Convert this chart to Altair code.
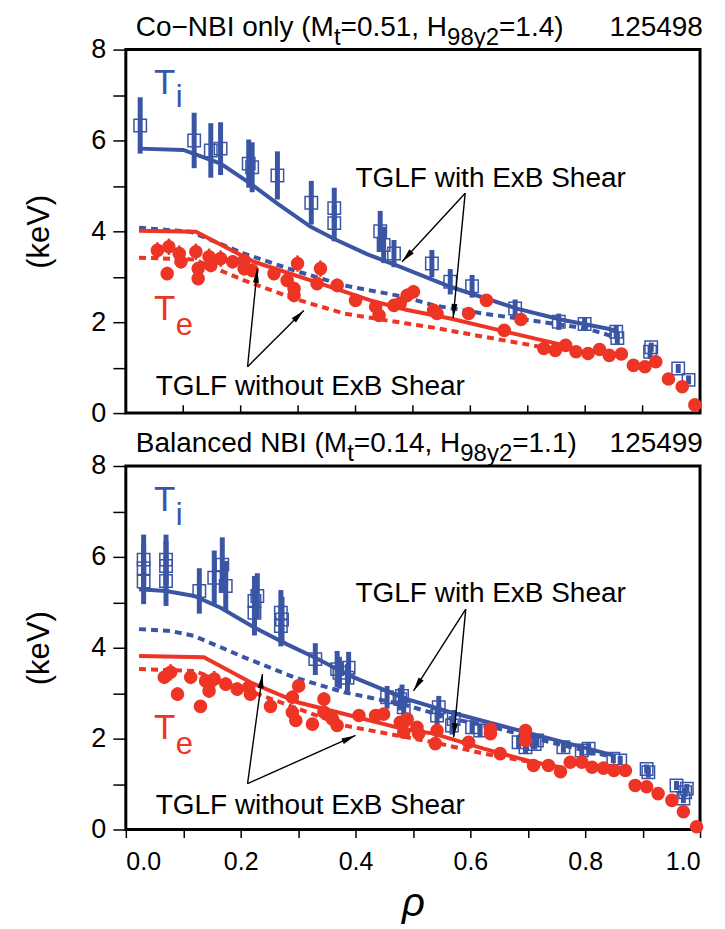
import math
import altair as alt
import pandas as pd

BLUE = "#3b55a5"
RED = "#ee3424"
FONT = "Liberation Sans"
TITLE_FONT = "Liberation Sans"
W, H = 575, 364
PX_X = W / 1.0
PX_Y = H / 8.0

# ---------------- Panel 1: Co-NBI only, shot 125498 ----------------
p1_title = [("Co−NBI only (M", "m"), ("t", "s"), ("=0.51, H", "m"), ("98y2", "s"), ("=1.4)", "m")]
p1_shot = "125498"

p1_ti_rho = [0.025, 0.119, 0.148, 0.165, 0.214, 0.220, 0.264, 0.323, 0.363, 0.363,
             0.443, 0.449, 0.467, 0.533, 0.565, 0.603, 0.678, 0.754, 0.799, 0.854,
             0.856, 0.913, 0.915, 0.962, 0.980]
p1_ti_val = [6.33, 6.00, 5.78, 5.82, 5.49, 5.41, 5.23, 4.63, 4.51, 4.18,
             4.00, 3.70, 3.51, 3.29, 2.89, 2.79, 2.30, 2.01, 1.96, 1.79,
             1.65, 1.35, 1.45, 0.98, 0.73]
p1_ti_err = [0.62, 0.61, 0.60, 0.58, 0.53, 0.55, 0.53, 0.48, 0.45, 0.40,
             0.45, 0.40, 0.30, 0.30, 0.28, 0.25, 0.20, 0.18, 0.15, 0.15,
             0.15, 0.15, 0.10, 0.10, 0.10]

p1_te_rho = [0.055, 0.075, 0.072, 0.093, 0.096, 0.122, 0.126, 0.126, 0.145, 0.148,
             0.165, 0.186, 0.206, 0.206, 0.220, 0.258, 0.281, 0.293, 0.293, 0.299,
             0.333, 0.339, 0.368, 0.400, 0.435, 0.441, 0.467, 0.478, 0.490, 0.501,
             0.536, 0.542, 0.597, 0.628, 0.659, 0.688, 0.728, 0.748, 0.766, 0.784,
             0.805, 0.825, 0.842, 0.863, 0.884, 0.904, 0.923, 0.945, 0.969, 0.991]
p1_te_val = [3.58, 3.66, 3.07, 3.51, 3.33, 3.55, 3.18, 2.96, 3.44, 3.25,
             3.40, 3.33, 3.36, 3.18, 3.14, 3.07, 2.92, 2.74, 2.59, 3.29,
             2.85, 3.18, 2.81, 2.48, 2.34, 2.15, 2.37, 2.42, 2.59, 2.67,
             2.26, 2.19, 2.19, 2.48, 1.82, 2.06, 1.42, 1.38, 1.49, 1.35,
             1.31, 1.40, 1.27, 1.30, 1.05, 1.02, 1.13, 0.75, 0.58, 0.18]
p1_te_err = [0.18, 0.18, 0.15, 0.18, 0.15, 0.18, 0.15, 0.15, 0.18, 0.15,
             0.18, 0.15, 0.18, 0.15, 0.15, 0.15, 0.15, 0.15, 0.15, 0.18,
             0.15, 0.18, 0.15, 0.12, 0.12, 0.12, 0.12, 0.12, 0.15, 0.15,
             0.10, 0.10, 0.10, 0.10, 0.10, 0.10, 0.06, 0.06, 0.06, 0.06,
             0.06, 0.06, 0.06, 0.06, 0.06, 0.06, 0.06, 0.06, 0.06, 0.06]

p1_ti_with_rho = [0.023, 0.100, 0.118, 0.165, 0.217, 0.264, 0.322, 0.365, 0.420, 0.478, 0.565, 0.681, 0.757, 0.838, 0.852]
p1_ti_with_val = [5.82, 5.79, 5.71, 5.49, 5.05, 4.61, 4.10, 3.82, 3.50, 3.22, 2.78, 2.30, 2.06, 1.86, 1.82]
p1_ti_wo_rho = [0.023, 0.113, 0.206, 0.293, 0.380, 0.484, 0.536, 0.623, 0.722, 0.803, 0.850]
p1_ti_wo_val = [4.08, 3.99, 3.51, 3.14, 2.81, 2.56, 2.37, 2.19, 2.01, 1.86, 1.68]
p1_te_with_rho = [0.023, 0.122, 0.223, 0.322, 0.426, 0.490, 0.565, 0.652, 0.760]
p1_te_with_val = [4.01, 3.99, 3.33, 2.92, 2.48, 2.27, 2.08, 1.82, 1.50]
p1_te_wo_rho = [0.023, 0.119, 0.206, 0.293, 0.380, 0.490, 0.536, 0.623, 0.730]
p1_te_wo_val = [3.42, 3.38, 2.92, 2.52, 2.19, 1.97, 1.88, 1.68, 1.44]

p1_arrow_x0 = [0.591, 0.591, 0.212, 0.212]
p1_arrow_y0 = [4.84, 4.84, 1.02, 1.02]
p1_arrow_x1 = [0.481, 0.570, 0.229, 0.310]
p1_arrow_y1 = [3.33, 2.09, 3.18, 2.26]
p1_with_pos = (0.400, 4.97)
p1_wo_pos = (0.052, 0.40)
p1_ti_lab = (0.049, 7.03, 0.087, 6.73)
p1_te_lab = (0.049, 2.04, 0.087, 1.71)

# ---------------- Panel 2: Balanced NBI, shot 125499 ----------------
p2_title = [("Balanced NBI (M", "m"), ("t", "s"), ("=0.14, H", "m"), ("98y2", "s"), ("=1.1)", "m")]
p2_shot = "125499"

p2_ti_rho = [0.031, 0.031, 0.031, 0.070, 0.070, 0.070, 0.128, 0.154, 0.168, 0.174,
             0.224, 0.224, 0.229, 0.270, 0.270, 0.272, 0.330, 0.368, 0.372, 0.388,
             0.386, 0.455, 0.478, 0.484, 0.481, 0.545, 0.542, 0.571, 0.568, 0.603,
             0.617, 0.684, 0.696, 0.716, 0.712, 0.762, 0.794, 0.806, 0.849, 0.861,
             0.910, 0.907, 0.959, 0.974, 0.977, 0.971]
p2_ti_val = [5.94, 5.75, 5.46, 5.94, 5.80, 5.47, 5.25, 5.54, 5.83, 5.36,
             5.03, 4.77, 5.14, 4.77, 4.48, 4.62, 3.75, 3.53, 3.45, 3.56,
             3.34, 2.91, 2.87, 2.69, 2.94, 2.69, 2.51, 2.43, 2.29, 2.25,
             2.18, 1.92, 1.81, 1.96, 1.88, 1.81, 1.74, 1.78, 1.56, 1.52,
             1.26, 1.33, 0.97, 0.82, 0.90, 0.68]
p2_ti_err = [0.55, 0.55, 0.50, 0.55, 0.55, 0.55, 0.50, 0.60, 0.60, 0.55,
             0.55, 0.50, 0.50, 0.50, 0.45, 0.50, 0.35, 0.40, 0.35, 0.35,
             0.30, 0.25, 0.25, 0.25, 0.25, 0.25, 0.20, 0.20, 0.20, 0.15,
             0.15, 0.15, 0.15, 0.12, 0.12, 0.12, 0.12, 0.12, 0.10, 0.10,
             0.12, 0.10, 0.10, 0.10, 0.10, 0.10]

p2_te_rho = [0.067, 0.078, 0.090, 0.113, 0.130, 0.139, 0.145, 0.154, 0.174, 0.194,
             0.214, 0.217, 0.252, 0.290, 0.290, 0.301, 0.296, 0.325, 0.345, 0.345,
             0.360, 0.368, 0.406, 0.435, 0.449, 0.484, 0.484, 0.478, 0.490, 0.507,
             0.510, 0.539, 0.542, 0.597, 0.635, 0.635, 0.652, 0.696, 0.696, 0.710,
             0.736, 0.757, 0.774, 0.794, 0.812, 0.832, 0.850, 0.870, 0.887, 0.907,
             0.927, 0.951, 0.971, 0.994]
p2_te_val = [3.35, 3.46, 2.98, 3.35, 2.71, 3.27, 3.05, 3.31, 3.20, 3.09,
             3.13, 2.98, 2.71, 2.58, 2.91, 3.16, 2.40, 2.32, 2.87, 2.58,
             2.43, 2.29, 2.51, 2.51, 2.54, 2.36, 2.14, 2.36, 2.43, 2.25,
             2.11, 1.89, 2.18, 1.92, 2.21, 2.11, 1.67, 2.18, 1.96, 1.41,
             1.41, 1.27, 1.48, 1.48, 1.37, 1.35, 1.30, 1.30, 0.97, 0.94,
             0.79, 0.64, 0.39, 0.06]
p2_te_err = [0.15, 0.18, 0.15, 0.15, 0.12, 0.15, 0.15, 0.18, 0.15, 0.15,
             0.15, 0.15, 0.12, 0.12, 0.15, 0.15, 0.12, 0.12, 0.15, 0.12,
             0.12, 0.12, 0.12, 0.12, 0.12, 0.12, 0.12, 0.12, 0.12, 0.10,
             0.10, 0.10, 0.10, 0.10, 0.10, 0.10, 0.08, 0.08, 0.08, 0.06,
             0.06, 0.06, 0.06, 0.06, 0.06, 0.06, 0.06, 0.06, 0.06, 0.06,
             0.06, 0.06, 0.06, 0.06]

p2_ti_with_rho = [0.023, 0.070, 0.119, 0.165, 0.223, 0.280, 0.330, 0.391, 0.484, 0.565, 0.652, 0.739, 0.849]
p2_ti_with_val = [5.29, 5.25, 5.14, 4.88, 4.45, 4.08, 3.78, 3.38, 2.89, 2.58, 2.29, 2.00, 1.63]
p2_ti_wo_rho = [0.023, 0.078, 0.119, 0.206, 0.293, 0.380, 0.484, 0.565, 0.652, 0.739, 0.849]
p2_ti_wo_val = [4.41, 4.37, 4.26, 3.79, 3.35, 3.02, 2.75, 2.45, 2.21, 1.92, 1.59]
p2_te_with_rho = [0.023, 0.136, 0.217, 0.299, 0.391, 0.484, 0.536, 0.623, 0.710, 0.757]
p2_te_with_val = [3.82, 3.79, 3.24, 2.80, 2.51, 2.21, 2.11, 1.78, 1.48, 1.37]
p2_te_wo_rho = [0.023, 0.119, 0.206, 0.293, 0.380, 0.472, 0.536, 0.623, 0.722, 0.750]
p2_te_wo_val = [3.53, 3.49, 3.09, 2.69, 2.29, 2.07, 1.92, 1.67, 1.45, 1.40]

p2_arrow_x0 = [0.592, 0.592, 0.212, 0.212]
p2_arrow_y0 = [4.85, 4.85, 1.01, 1.01]
p2_arrow_x1 = [0.501, 0.571, 0.238, 0.400]
p2_arrow_y1 = [3.05, 2.03, 3.42, 2.07]
p2_with_pos = (0.400, 5.00)
p2_wo_pos = (0.052, 0.35)
p2_ti_lab = (0.049, 7.00, 0.087, 6.71)
p2_te_lab = (0.049, 2.00, 0.087, 1.67)

x_tick_values = [0.0, 0.1, 0.2, 0.3, 0.4, 0.5, 0.6, 0.7, 0.8, 0.9, 1.0]
y_tick_values = [0, 1, 2, 3, 4, 5, 6, 7, 8]
with_label = "TGLF with ExB Shear"
wo_label = "TGLF without ExB Shear"

# ---------------------------------------------------------------
TITLE_MAIN = 28
TITLE_SUB = 24
TITLE_BASE = 8.30
ARIAL = {'C': .722, 'o': .556, '−': .584, 'N': .722, 'B': .667, 'I': .278, ' ': .278,
         'n': .556, 'l': .222, 'y': .5, '(': .333, 'M': .833, 't': .278, '=': .584,
         '.': .278, ',': .278, 'H': .722, ')': .333, 'a': .556, 'c': .5, 'e': .556,
         'd': .556}


def text_w(s, size):
    return sum(ARIAL.get(ch, 0.556) for ch in s) * size


xs = alt.Scale(domain=[0, 1], nice=False, zero=False)
ys = alt.Scale(domain=[0, 8], nice=False, zero=False)

y_axis = alt.Axis(values=y_tick_values, labelExpr="datum.value % 2 == 0 ? datum.label : ''",
                  tickSize=13, tickWidth=1.5, tickColor="black", labelFontSize=27, labelPadding=7,
                  labelColor="black", labelFont=FONT, labelOverlap=False, domain=False, grid=False,
                  title="(keV)", titleFontSize=31, titleFont=FONT, titleFontWeight="normal",
                  titleColor="black", titleX=-86, titleY=H / 2, titleAlign="center",
                  titleBaseline="middle")


def x_axis(bottom):
    if bottom:
        return alt.Axis(values=x_tick_values,
                        labelExpr="round(datum.value*10) % 2 == 0 ? format(datum.value, '.1f') : ''",
                        tickSize=8, tickWidth=1.5, tickColor="black", labelFontSize=25,
                        labelPadding=12, labelColor="black", labelFont=FONT, labelOverlap=False,
                        domain=False, grid=False, title="ρ", titleFontSize=40, titleFont=FONT,
                        titleFontStyle="italic", titleFontWeight="normal", titleColor="black",
                        titleY=74, titleBaseline="middle")
    return alt.Axis(labels=False, ticks=False, domain=False, grid=False, title=None)


def panel(bottom, title, shot, ti_rho, ti_val, ti_err, te_rho, te_val, te_err,
          lines, arrows, with_pos, wo_pos, ti_lab, te_lab):
    X = alt.X("rho:Q", scale=xs, axis=x_axis(bottom))
    Y = alt.Y("val:Q", scale=ys, axis=y_axis)
    layers = []

    ti = pd.DataFrame({"rho": ti_rho, "val": ti_val, "err": ti_err})
    ti["lo"] = ti["val"] - ti["err"]
    ti["hi"] = ti["val"] + ti["err"]
    te = pd.DataFrame({"rho": te_rho, "val": te_val, "err": te_err})
    te["lo"] = te["val"] - te["err"]
    te["hi"] = te["val"] + te["err"]

    layers.append(alt.Chart(ti).mark_rule(color=BLUE, strokeWidth=5).encode(
        x=X, y=alt.Y("lo:Q", scale=ys, axis=y_axis), y2="hi:Q"))
    layers.append(alt.Chart(te).mark_rule(color=RED, strokeWidth=2.5).encode(
        x=X, y=alt.Y("lo:Q", scale=ys, axis=y_axis), y2="hi:Q"))

    for rho, val, color, dashed in lines:
        d = pd.DataFrame({"rho": rho, "val": val})
        kw = dict(color=color, strokeWidth=4)
        if dashed:
            kw["strokeDash"] = [7, 5]
        layers.append(alt.Chart(d).mark_line(**kw).encode(x=X, y=Y))

    layers.append(alt.Chart(ti).mark_point(shape="square", filled=False, color=BLUE,
                                           strokeWidth=1.5, size=155, opacity=1).encode(x=X, y=Y))
    layers.append(alt.Chart(te).mark_circle(color=RED, size=185, opacity=1).encode(x=X, y=Y))

    if not bottom:
        tk = pd.DataFrame({"rho": x_tick_values[1:-1], "val": [0.0] * 9, "v2": [0.17] * 9})
        layers.append(alt.Chart(tk).mark_rule(color="black", strokeWidth=1.5).encode(
            x=X, y=Y, y2="v2:Q"))

    # annotations
    ann = pd.DataFrame({"rho": [with_pos[0], wo_pos[0]], "val": [with_pos[1], wo_pos[1]],
                        "txt": [with_label, wo_label]})
    layers.append(alt.Chart(ann).mark_text(align="left", baseline="alphabetic", font=FONT,
                                           fontSize=28, color="black").encode(
        x=X, y=Y, text="txt:N"))

    for lab, sub, color in [(ti_lab, "i", BLUE), (te_lab, "e", RED)]:
        dT = pd.DataFrame({"rho": [lab[0]], "val": [lab[1]], "txt": ["T"]})
        dS = pd.DataFrame({"rho": [lab[2]], "val": [lab[3]], "txt": [sub]})
        layers.append(alt.Chart(dT).mark_text(align="left", baseline="alphabetic", font=FONT,
                                              fontSize=35, color=color).encode(x=X, y=Y, text="txt:N"))
        layers.append(alt.Chart(dS).mark_text(align="left", baseline="alphabetic", font=FONT,
                                              fontSize=31, color=color).encode(x=X, y=Y, text="txt:N"))

    x0, y0, x1, y1 = arrows
    ar = pd.DataFrame({"rho": x0, "val": y0, "rho2": x1, "val2": y1})
    ar["ang"] = [math.degrees(math.atan2((b - a) * PX_X, (d - c) * PX_Y)) % 360
                 for a, b, c, d in zip(x0, x1, y0, y1)]
    layers.append(alt.Chart(ar).mark_rule(color="black", strokeWidth=1.4).encode(
        x=X, y=Y, x2="rho2:Q", y2="val2:Q"))
    layers.append(alt.Chart(ar).mark_point(shape="M0,0 L-0.42,2 L0.42,2 Z", filled=True,
                                           color="black", size=200, opacity=1).encode(
        x=alt.X("rho2:Q", scale=xs, axis=x_axis(bottom)),
        y=alt.Y("val2:Q", scale=ys, axis=y_axis),
        angle=alt.Angle("ang:Q", scale=None)))

    # panel title as segments (main text + subscripts)
    px = 10.0
    mains, subs = [], []
    for txt, kind in title:
        size = TITLE_MAIN if kind == "m" else TITLE_SUB
        (mains if kind == "m" else subs).append({"rho": px / PX_X, "val": TITLE_BASE, "txt": txt})
        px += text_w(txt, size)
    layers.append(alt.Chart(pd.DataFrame(mains)).mark_text(
        align="left", baseline="alphabetic", font=TITLE_FONT, fontSize=TITLE_MAIN,
        color="black").encode(x=X, y=Y, text="txt:N"))
    layers.append(alt.Chart(pd.DataFrame(subs)).mark_text(
        align="left", baseline="alphabetic", font=TITLE_FONT, fontSize=TITLE_SUB, dy=9,
        color="black").encode(x=X, y=Y, text="txt:N"))
    layers.append(alt.Chart(pd.DataFrame({"rho": [1.005], "val": [TITLE_BASE], "txt": [shot]})).mark_text(
        align="right", baseline="alphabetic", font=TITLE_FONT, fontSize=TITLE_MAIN,
        color="black").encode(x=X, y=Y, text="txt:N"))

    return alt.layer(*layers).properties(width=W, height=H)


top = panel(False, p1_title, p1_shot, p1_ti_rho, p1_ti_val, p1_ti_err,
            p1_te_rho, p1_te_val, p1_te_err,
            [(p1_ti_with_rho, p1_ti_with_val, BLUE, False), (p1_ti_wo_rho, p1_ti_wo_val, BLUE, True),
             (p1_te_with_rho, p1_te_with_val, RED, False), (p1_te_wo_rho, p1_te_wo_val, RED, True)],
            (p1_arrow_x0, p1_arrow_y0, p1_arrow_x1, p1_arrow_y1),
            p1_with_pos, p1_wo_pos, p1_ti_lab, p1_te_lab)
bot = panel(True, p2_title, p2_shot, p2_ti_rho, p2_ti_val, p2_ti_err,
            p2_te_rho, p2_te_val, p2_te_err,
            [(p2_ti_with_rho, p2_ti_with_val, BLUE, False), (p2_ti_wo_rho, p2_ti_wo_val, BLUE, True),
             (p2_te_with_rho, p2_te_with_val, RED, False), (p2_te_wo_rho, p2_te_wo_val, RED, True)],
            (p2_arrow_x0, p2_arrow_y0, p2_arrow_x1, p2_arrow_y1),
            p2_with_pos, p2_wo_pos, p2_ti_lab, p2_te_lab)

chart = alt.vconcat(top, bot, spacing=53, bounds="flush").properties(
    padding={"left": 22, "top": 11, "right": 20, "bottom": 5},
    background="white",
).configure_view(stroke="black", strokeWidth=3)

chart.save("out.html", embed_options={"renderer": "svg", "actions": False})
